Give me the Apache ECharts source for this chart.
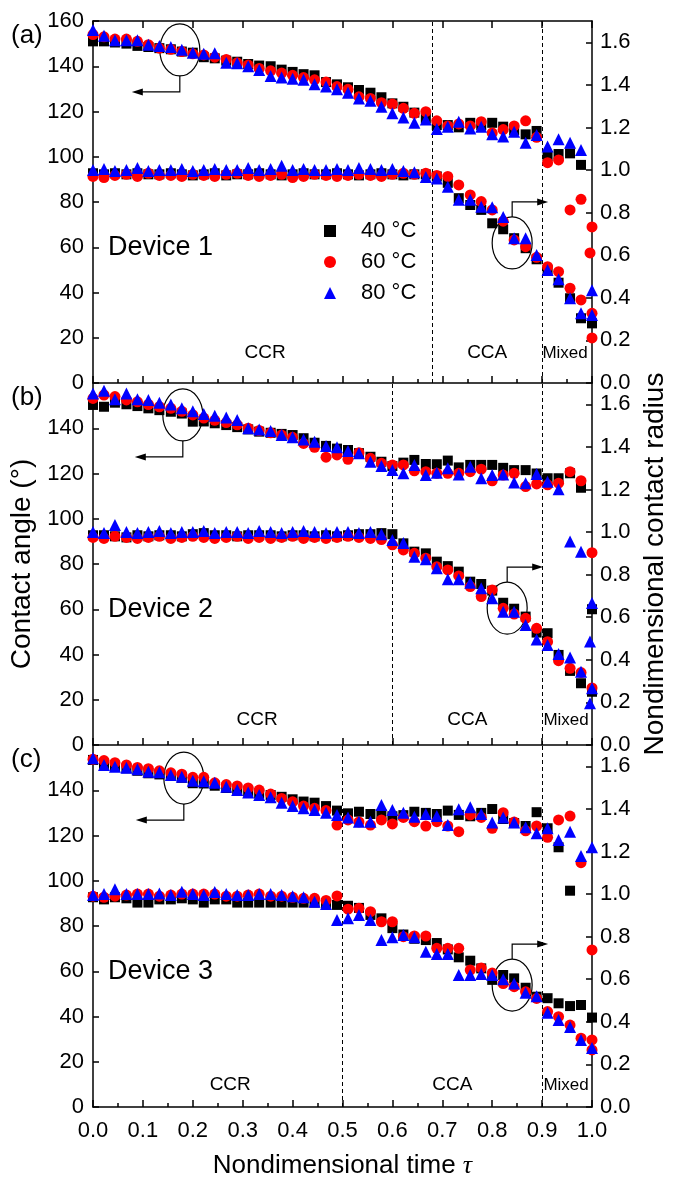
<!DOCTYPE html>
<html>
<head>
<meta charset="utf-8">
<script src="https://cdn.jsdelivr.net/npm/echarts@6/dist/echarts.min.js"></script>
<style>
html,body{margin:0;padding:0;background:#fff;}
#chart{width:681px;height:1183px;}
</style>
</head>
<body>
<div id="chart"></div>
<script>
// ---------------- data ----------------
const tau = [0,0.022,0.044,0.067,0.089,0.111,0.133,0.156,0.178,0.2,0.222,0.244,0.267,0.289,0.311,0.333,0.356,0.378,0.4,0.422,0.444,0.467,0.489,0.511,0.533,0.556,0.578,0.6,0.622,0.644,0.667,0.689,0.711,0.733,0.756,0.778,0.8,0.822,0.844,0.867,0.889,0.911,0.933,0.956,0.978,1.0];
const temps = ['40 °C','60 °C','80 °C'];

// Device 1 (a): contact angle (deg) and nondimensional contact radius
const caA40 = [151,151,150.5,150,149,148.5,148,147.5,146.5,146,144,143.5,142.5,142,141,140.3,140,138.5,137.5,136.5,136,133,132,130.7,129.5,128.3,126.3,123.6,122.1,119.5,117,114,114,113,115,114,115,113.3,111.8,109.9,111.4,100.3,101.2,101.5,96.4,null];
const caA60 = [154,153,152,152,151,149.5,148,147.5,146.5,145.5,145,144,143,141.5,140.5,139,138,137,136,135,134,133,131,129.8,126.5,125.8,123.9,123.3,121.4,119.2,119.9,115.9,113.6,114.5,113.6,115.5,110.5,112,113.6,115.9,108.6,97.4,98.6,76.5,81.2,69];
const caA80 = [156,153.5,151.5,151.5,151.5,149.5,149,148.5,147.3,146,145.5,145.7,141.6,141.3,140,138.3,135.7,135,134.5,134,132,131,129.8,128.3,125.8,124.8,122.1,119.2,117.4,115,116.5,112.3,113.3,115.5,112.5,113.3,109.9,108.9,111.1,106.2,109.6,104.5,107.7,106.2,103,41];
const rA40 = [0.985,0.98,0.985,0.98,0.985,0.98,0.98,0.985,0.98,0.975,0.98,0.985,0.975,0.98,0.98,0.985,0.98,0.975,0.98,0.985,0.98,0.98,0.985,0.98,0.975,0.98,0.985,0.98,0.975,0.98,0.98,0.97,0.94,0.868,0.836,0.813,0.75,0.722,0.68,0.633,0.581,0.531,0.471,0.398,0.304,0.28];
const rA60 = [0.97,0.965,0.975,0.98,0.97,0.985,0.975,0.975,0.97,0.98,0.975,0.97,0.98,0.985,0.975,0.97,0.975,0.98,0.965,0.97,0.98,0.975,0.97,0.975,0.98,0.975,0.97,0.98,0.985,0.98,0.985,0.975,0.97,0.93,0.883,0.852,0.813,0.76,0.672,0.64,0.59,0.546,0.523,0.445,0.39,0.327];
const rA80 = [1.0,1.005,0.995,1.0,1.01,0.995,1.0,1.0,1.005,0.995,1.0,1.005,1.0,1.0,1.01,1.0,1.005,1.02,1.0,1.005,1.0,1.0,1.005,1.0,1.01,1.005,1.0,1.005,0.995,0.99,0.967,0.96,0.922,0.86,0.86,0.828,0.825,0.78,0.68,0.68,0.601,0.531,0.487,0.398,0.327,0.319];
const caTailA60 = [[0.996,57.5],[1.0,19.9]];

// Device 2 (b)
const caB40 = [150.3,149.5,151.3,150.6,149.8,148.8,148,147.3,146.5,142.9,143,142.2,141.4,140.5,139.5,138.5,138,137.5,137,135.6,133.6,132.2,131,130.4,129,127.4,125.2,123.3,124.8,126,124.2,124.1,125.7,122.7,123.8,123.8,123.8,122.5,121.5,121.5,120,117.9,117.9,120.1,113.7,60];
const caB60 = [153.2,154.7,154,152.5,151.7,150.5,149.5,148.8,147.5,145.9,144.5,143.5,142.5,141.5,140,139,138,137,136,133.3,131.6,127.2,128.2,126.3,129.2,126.7,124.5,123.8,123.8,121.2,120.8,120.1,120.1,120.1,120.8,121.9,116.8,119.3,120.1,114.2,115.4,115,115.7,120.8,116.8,85];
const caB80 = [155.4,156.6,152.8,155.4,152.8,152.5,151.3,150.5,148.8,147.5,146.3,145.5,144.8,143.6,140,139.5,138.8,137,136,135,134,132.2,131.6,130,128.9,125.2,123.3,121.5,120.1,123.8,119.3,120.3,122.3,119.6,123,117.9,119.3,119.6,116,115.7,119.8,116.4,113,89.9,85.4,62.8];
const rB40 = [0.985,0.985,0.98,0.975,0.985,0.98,0.985,0.985,0.98,0.99,0.995,0.985,0.985,0.98,0.985,0.985,0.985,0.98,0.985,0.985,0.98,0.985,0.98,0.985,0.99,0.99,0.995,0.99,0.947,0.908,0.9,0.861,0.84,0.814,0.767,0.756,0.725,0.668,0.64,0.603,0.528,0.525,0.423,0.348,0.29,0.25];
const rB60 = [0.975,0.97,0.98,0.975,0.97,0.975,0.98,0.97,0.975,0.98,0.975,0.97,0.975,0.98,0.97,0.975,0.97,0.975,0.98,0.97,0.975,0.97,0.975,0.98,0.975,0.97,0.965,0.94,0.916,0.9,0.877,0.837,0.822,0.794,0.744,0.697,0.728,0.642,0.615,0.595,0.548,0.485,0.396,0.36,0.34,0.268];
const rB80 = [1.0,0.995,1.033,1.0,0.995,1.0,1.005,0.995,1.0,1.0,1.005,0.995,1.0,1.0,0.995,1.005,1.0,0.995,1.0,1.005,1.0,0.995,1.0,1.0,0.995,1.0,0.99,0.963,0.949,0.884,0.872,0.83,0.778,0.778,0.762,0.736,0.689,0.626,0.626,0.564,0.496,0.47,0.427,0.411,0.344,0.266];
const caTailB80 = [[0.996,45.7]];
const rTailB80 = [[0.996,0.196]];

// Device 3 (c)
const caC40 = [153.4,151.6,150.7,149.7,148.6,147.5,147,146.3,145.5,143.1,143,142,141,140.4,139.4,138.5,137.9,137.1,136,135,134.5,133,131,129.8,130.5,129.5,129.5,128.5,129,130.5,130,129.5,131,129.1,128.5,130,131.7,127.3,125.5,124.2,130.3,123.2,114.8,95.6,null,null];
const caC60 = [153.7,153.1,152.2,151.2,150.1,149.5,148.6,147.7,147.1,145.7,145.7,143.3,142.5,141.9,141,140.1,138.3,136.4,134.9,133,132,131,124.6,126.9,126,124.6,126.9,125.1,128,126.1,124.2,126.1,124.2,121.7,129.1,128,123.2,130.1,126,122.1,124.2,119.2,126.9,128.6,108,69.4];
const caC80 = [154.1,151.2,150.4,150,149.3,148.2,148,146.7,146,144.2,144,143.3,141.6,140.1,139,137.9,136.9,134.5,133,132,131.3,130.1,129.1,128,126.1,126.1,133.5,131.3,130.1,128.3,129.5,128.6,124.6,131.6,132.5,129.5,125.7,128,125.7,123.6,121,123.2,118,121.7,110.9,114.8];
const rC40 = [0.985,0.975,0.985,0.98,0.96,0.96,0.975,0.975,0.98,0.975,0.96,0.975,0.975,0.96,0.96,0.96,0.96,0.96,0.96,0.96,0.96,0.955,0.949,0.945,0.935,0.902,0.886,0.84,0.81,0.79,0.784,0.77,0.74,0.703,0.687,0.651,0.597,0.62,0.604,0.56,0.518,0.511,0.487,0.474,0.479,0.42];
const rC60 = [0.99,0.985,0.99,0.995,1.0,1.0,0.99,0.995,1.0,1.0,1.0,1.0,0.99,0.99,0.995,1.0,0.99,0.99,0.985,0.98,0.98,0.97,0.991,0.929,0.933,0.917,0.87,0.87,0.8,0.803,0.803,0.745,0.745,0.745,0.643,0.653,0.629,0.58,0.565,0.541,0.51,0.448,0.424,0.385,0.323,0.315];
const rC80 = [0.996,1.0,1.023,1.0,1.0,1.0,1.003,0.996,1.011,1.0,0.996,1.01,1.0,0.996,0.996,1.0,1.0,0.996,0.99,0.985,0.964,0.953,0.878,0.886,0.902,0.878,0.784,0.797,0.808,0.797,0.729,0.719,0.719,0.62,0.62,0.625,0.62,0.6,0.58,0.537,0.52,0.443,0.409,0.376,0.315,0.277];
const rTailC60 = [[1.0,0.268]];

// stage boundaries (tau) and labels
const boundsA = [0.68, 0.9];
const boundsB = [0.6, 0.9];
const boundsC = [0.5, 0.9];
const stageNames = ['CCR','CCA','Mixed'];
const stagePosA = [[0.345,13.3],[0.79,13.3],[0.946,13.3]];
const stagePosB = [[0.329,11],[0.75,11],[0.948,11]];
const stagePosC = [[0.275,9.7],[0.72,9.7],[0.948,9.7]];
const panelTags = ['(a)','(b)','(c)'];
const deviceNames = ['Device 1','Device 2','Device 3'];
// annotation ellipses (tau, contact angle)
const ellipseCA = [[0.174,147.2],[0.18,145.9],[0.182,145.4]];
const ellipseR = [[0.84,61.9],[0.83,60.5],[0.84,53.9]];

// ---------------- chart ----------------
const FONT = '"Liberation Sans", Arial, Helvetica, sans-serif';
const TOPS = [21, 383, 745], H = 362, LEFT = 93, RIGHT = 89;
const BLACK = '#000000';
const lineStyle = {color: BLACK, width: 1.5};

const panels = [
  {ca:[caA40,caA60,caA80], r:[rA40,rA60,rA80], caTail:[[],caTailA60,[]], rTail:[[],[],[]], bounds:boundsA, stages:stagePosA},
  {ca:[caB40,caB60,caB80], r:[rB40,rB60,rB80], caTail:[[],[],caTailB80], rTail:[[],[],rTailB80], bounds:boundsB, stages:stagePosB},
  {ca:[caC40,caC60,caC80], r:[rC40,rC60,rC80], caTail:[[],[],[]], rTail:[[],rTailC60,[]], bounds:boundsC, stages:stagePosC}
];
const colors = ['#000000','#ff0000','#0000ff'];
const symbols = ['rect','circle','triangle'];
const sizes = [10,11,12];

const grid = TOPS.map(t => ({left: LEFT, right: RIGHT, top: t, height: H}));

const xAxis = [0,1,2].map(i => ({
  type:'value', gridIndex:i, min:0, max:1, interval:0.1,
  axisLine:{show:true, onZero:false, lineStyle},
  axisTick:{show:true, inside:true, length:7, lineStyle},
  minorTick:{show:true, splitNumber:2, length:4, lineStyle},
  splitLine:{show:false},
  axisLabel:{show:i===2, fontSize:22, color:BLACK, fontFamily:FONT, margin:13, formatter:v=>v.toFixed(1)},
  name: i===2 ? 'Nondimensional time {t|τ}' : '',
  nameLocation:'middle', nameGap:46,
  nameTextStyle:{fontSize:26, color:BLACK, fontFamily:FONT,
    rich:{t:{fontSize:26, color:BLACK, fontStyle:'italic', fontFamily:'"Liberation Serif", "DejaVu Serif", serif'}}}
}));
xAxis.push({
  type:'value', gridIndex:0, position:'top', min:0, max:1, interval:0.1,
  axisLine:{show:true, onZero:false, lineStyle},
  axisTick:{show:true, inside:true, length:7, lineStyle},
  axisLabel:{show:false}, splitLine:{show:false}
});

const yAxis = [];
[0,1,2].forEach(i => {
  yAxis.push({
    type:'value', gridIndex:i, position:'left', min:0, max:160, interval:20,
    axisLine:{show:true, onZero:false, lineStyle},
    axisTick:{show:true, inside:true, length:6, lineStyle},
    splitLine:{show:false},
    axisLabel:{fontSize:22, color:BLACK, fontFamily:FONT, margin:9, showMaxLabel: i===0},
    name: i===1 ? 'Contact angle (°)' : '', nameLocation:'middle', nameRotate:90, nameGap:56,
    nameTextStyle:{fontSize:28, color:BLACK, fontFamily:FONT}
  });
  yAxis.push({
    type:'value', gridIndex:i, position:'right', min:0, max:1.7, interval:0.2,
    axisLine:{show:true, onZero:false, lineStyle},
    axisTick:{show:true, inside:true, length:6, lineStyle},
    splitLine:{show:false},
    axisLabel:{fontSize:22, color:BLACK, fontFamily:FONT, margin:8, showMaxLabel:false, formatter:v=>v.toFixed(1)},
    name: i===1 ? 'Nondimensional contact radius' : '', nameLocation:'middle', nameRotate:90, nameGap:42,
    nameTextStyle:{fontSize:28, color:BLACK, fontFamily:FONT}
  });
});

const series = [];
panels.forEach((p, pi) => {
  for (let k = 0; k < 3; k++) {
    const base = {type:'scatter', name:temps[k], xAxisIndex:pi, symbol:symbols[k], symbolSize:sizes[k],
      itemStyle:{color:colors[k], opacity:1}, silent:true, z:3+k, emphasis:{disabled:true}};
    const caData = tau.map((t,i)=>[t, p.ca[k][i]]).filter(d=>d[1]!=null).concat(p.caTail[k]);
    const rData = tau.map((t,i)=>[t, p.r[k][i]]).filter(d=>d[1]!=null).concat(p.rTail[k]);
    const s1 = Object.assign({}, base, {yAxisIndex:pi*2, data:caData});
    if (k === 0) {
      s1.markLine = {silent:true, symbol:'none', label:{show:false}, z:1,
        lineStyle:{type:[4,3], color:BLACK, width:1},
        data: p.bounds.map(b => ({xAxis:b}))};
    }
    series.push(s1);
    series.push(Object.assign({}, base, {yAxisIndex:pi*2+1, data:rData}));
  }
});

const chart = echarts.init(document.getElementById('chart'), null, {renderer:'canvas'});
chart.setOption({
  animation:false,
  backgroundColor:'#ffffff',
  textStyle:{fontFamily:FONT},
  grid, xAxis, yAxis, series,
  legend:{
    data:temps.map((n,k)=>({name:n, icon:symbols[k], itemStyle:{color:colors[k], opacity:1}})),
    orient:'vertical', left:319, top:215, itemWidth:12, itemHeight:12, itemGap:9,
    selectedMode:false,
    textStyle:{fontSize:22, color:BLACK, fontFamily:FONT, padding:[0,0,0,20]}
  }
});

// ---------------- annotations ----------------
function px(pi, x, y) { return chart.convertToPixel({xAxisIndex:pi, yAxisIndex:pi*2}, [x, y]); }
const graphic = [];
const thin = {stroke:BLACK, lineWidth:1.2, fill:null};
for (let pi = 0; pi < 3; pi++) {
  graphic.push({type:'text', x:11, y:TOPS[pi]+15, silent:true,
    style:{text:panelTags[pi], fontSize:26, fontFamily:FONT, fill:BLACK, align:'left', verticalAlign:'middle'}});
  const d = px(pi, 0.03, 60);
  graphic.push({type:'text', x:d[0], y:d[1], silent:true,
    style:{text:deviceNames[pi], fontSize:27, fontFamily:FONT, fill:BLACK, align:'left', verticalAlign:'middle'}});
  panels[pi].stages.forEach((s, si) => {
    const q = px(pi, s[0], s[1]);
    graphic.push({type:'text', x:q[0], y:q[1], silent:true,
      style:{text:stageNames[si], fontSize: si===2 ? 17 : 19, fontFamily:FONT, fill:BLACK, align:'center', verticalAlign:'middle'}});
  });
  const e1 = px(pi, ellipseCA[pi][0], ellipseCA[pi][1]);
  graphic.push({type:'ellipse', silent:true, shape:{cx:e1[0], cy:e1[1], rx:20, ry:26}, style:{stroke:BLACK, lineWidth:1.2, fill:null}});
  const yb = e1[1] + 26, yl = yb + 16, xl = e1[0] - 48;
  graphic.push({type:'polyline', silent:true, shape:{points:[[e1[0], yb],[e1[0], yl],[xl+6, yl]]}, style:thin});
  graphic.push({type:'polygon', silent:true, shape:{points:[[xl, yl],[xl+11, yl-3.5],[xl+11, yl+3.5]]}, style:{fill:BLACK}});
  const e2 = px(pi, ellipseR[pi][0], ellipseR[pi][1]);
  graphic.push({type:'ellipse', silent:true, shape:{cx:e2[0], cy:e2[1], rx:20, ry:26}, style:{stroke:BLACK, lineWidth:1.2, fill:null}});
  const yt = e2[1] - 26, yu = yt - 15, xr = e2[0] + 36;
  graphic.push({type:'polyline', silent:true, shape:{points:[[e2[0], yt],[e2[0], yu],[xr-6, yu]]}, style:thin});
  graphic.push({type:'polygon', silent:true, shape:{points:[[xr, yu],[xr-11, yu-3.5],[xr-11, yu+3.5]]}, style:{fill:BLACK}});
}
chart.setOption({graphic});
</script>
</body>
</html>
